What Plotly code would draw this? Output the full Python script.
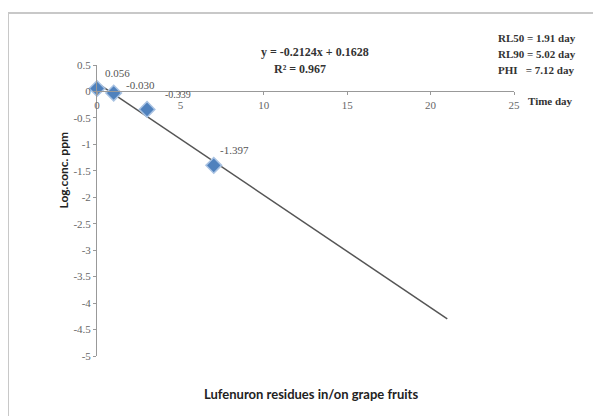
import plotly.graph_objects as go

# Data
days = [0, 1, 3, 7]
log_conc = [0.056, -0.030, -0.339, -1.397]
point_labels = ["0.056", "-0.030", "-0.339", "-1.397"]
slope = -0.2124
intercept = 0.1628
trend_x = [0, 21]
trend_y = [slope * x + intercept for x in trend_x]
x_ticks = [0, 5, 10, 15, 20, 25]
y_ticks = [0.5, 0, -0.5, -1, -1.5, -2, -2.5, -3, -3.5, -4, -4.5, -5]
y_ticktext = ["0.5", "0", "-0.5", "-1", "-1.5", "-2", "-2.5", "-3", "-3.5", "-4", "-4.5", "-5"]

W, H = 601, 416
OFF = 8  # page body margin
L, R, T, B = 97 - OFF, 514 - OFF, 65 - OFF, 356 - OFF

def px(x):
    return (x - OFF - L) / (R - L)

def py(y):
    return (B - (y - OFF)) / (B - T)

fig = go.Figure()
fig.add_trace(go.Scatter(x=trend_x, y=trend_y, mode="lines",
                         line=dict(color="#555555", width=1.5), hoverinfo="skip",
                         showlegend=False))
fig.add_trace(go.Scatter(x=days, y=log_conc, mode="markers",
                         marker=dict(symbol="diamond", size=12, color="#4F81BD",
                                     line=dict(color="#A8C2E2", width=1.5)),
                         cliponaxis=False, showlegend=False))

label_shift = [(6, 15), (10, 8), (16, 15), (4, 15)]
label_size = [11, 11, 10, 11]
annotations = []
for xv, yv, lab, (dx, dy), fs in zip(days, log_conc, point_labels, label_shift, label_size):
    annotations.append(dict(x=xv, y=yv, text=lab, xref="x", yref="y", showarrow=False,
                            xanchor="left", xshift=dx, yshift=dy,
                            font=dict(family="Liberation Serif", size=fs, color="#555555")))

y0pos = (0 - (-5)) / 5.5

annotations += [
    dict(text="<b>y = -0.2124x + 0.1628</b>", x=px(315), y=py(43), xref="paper", yref="paper",
         showarrow=False, font=dict(family="Liberation Serif", size=12, color="#333333")),
    dict(text="<b>R² = 0.967</b>", x=px(300), y=py(60), xref="paper", yref="paper",
         showarrow=False, font=dict(family="Liberation Serif", size=12, color="#333333")),
    dict(text="<b>RL50 = 1.91 day</b>", x=px(496), y=py(30), xref="paper", yref="paper",
         xanchor="left", showarrow=False,
         font=dict(family="Liberation Serif", size=11, color="#333333")),
    dict(text="<b>RL90 = 5.02 day</b>", x=px(496), y=py(46), xref="paper", yref="paper",
         xanchor="left", showarrow=False,
         font=dict(family="Liberation Serif", size=11, color="#333333")),
    dict(text="<b>PHI&nbsp;&nbsp; = 7.12 day</b>", x=px(496), y=py(62), xref="paper", yref="paper",
         xanchor="left", showarrow=False,
         font=dict(family="Liberation Serif", size=11, color="#333333")),
    dict(text="<b>Time day</b>", x=px(526), y=py(93), xref="paper", yref="paper",
         xanchor="left", showarrow=False,
         font=dict(family="Liberation Serif", size=11, color="#333333")),
    dict(text="<b>Log.conc. ppm</b>", x=px(53), y=py(170), xref="paper", yref="paper",
         textangle=-90, showarrow=False,
         font=dict(family="Lato", size=12, color="#222222")),
    dict(text="<b>Lufenuron residues in/on grape fruits</b>", x=px(311), y=py(404),
         xref="paper", yref="paper", showarrow=False,
         font=dict(family="Lato", size=13, color="#222222")),
]

fig.update_layout(
    width=W, height=H,
    margin=dict(l=L, r=W - R, t=T, b=H - B, pad=0),
    paper_bgcolor="white", plot_bgcolor="white",
    xaxis=dict(range=[0, 25], tickvals=x_ticks, showgrid=False, zeroline=False,
               showline=True, linecolor="#999999", linewidth=1,
               ticks="outside", ticklen=3, tickcolor="#999999",
               anchor="free", position=y0pos, domain=[0, 1],
               tickfont=dict(family="Liberation Serif", size=11, color="#666666")),
    yaxis=dict(range=[-5, 0.5], tickvals=y_ticks, ticktext=y_ticktext,
               showgrid=False, zeroline=False,
               showline=True, linecolor="#999999", linewidth=1,
               ticks="outside", ticklen=3, tickcolor="#999999",
               tickfont=dict(family="Liberation Serif", size=11, color="#666666")),
    shapes=[dict(type="rect", xref="paper", yref="paper",
                 x0=px(8), x1=px(620), y0=py(13), y1=py(440),
                 line=dict(color="#c8c8c8", width=2))],
    annotations=annotations,
)

fig.write_html("out.html")
